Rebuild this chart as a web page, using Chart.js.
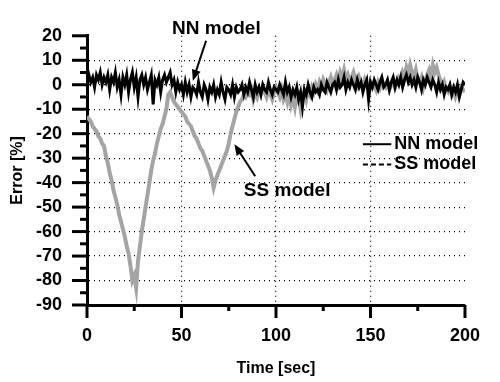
<!DOCTYPE html>
<html>
<head>
<meta charset="utf-8">
<script src="https://cdn.jsdelivr.net/npm/chart.js@4"></script>
<style>
  body { margin: 0; background: #fff; }
</style>
</head>
<body>
<canvas id="errChart" width="500" height="382"></canvas>
<script>
// tid i sekunder, ett värde per sekund 0..200
const timeSec = [];
for (let t = 0; t <= 200; t++) timeSec.push(t);

// NN model (svart, brusig kring 0)
const nnError = [
  2, 4, 1, 3, -1, 4, 2, 5, 0, 3, 1,
  4, -2, 3, 1, 5, -1, 2, -4, 3, 0,
  4, -3, 2, 5, -1, 3, -5, 2, 4, 0,
  3, -2, 1, 4, -8, 2, 0, 3, -3, 2,
  4, 1, 3, 5, 0, 2, -3, 1, -2, 0,
  -4, 1, -3, 0, -5, -1, -2, -4, 1, -3,
  -5, 0, -2, -6, -1, -3, 0, -5, -2, -4,
  1, -3, -6, -1, -2, -4, 0, -5, -1, -3,
  -2, 0, -4, -1, -3, 1, -2, -5, 0, -3,
  -1, -4, 0, -2, -3, 1, -2, -4, -1, -2,
  -3, 0, -2, -4, 1, -3, -1, -5, -2, -4,
  -1, -6, -3, -9, -2, -4, 0, -3, -5, -1,
  -3, -2, -4, 0, -2, -3, 1, -1, -3, 0,
  1, -2, 2, -1, 0, 3, -2, 1, -1, 2,
  0, -2, 2, -1, 1, -3, 0, 2, -6, 1,
  -1, 2, 0, -2, 1, 3, -1, 0, 2, -2,
  1, 3, -1, 2, 0, 3, -1, 2, 4, 1,
  3, 0, 2, -1, 3, 1, -2, 2, 0, 3,
  1, -1, 2, 0, -3, 1, -2, 0, -4, -1,
  -2, 0, -4, -1, -3, 0, -5, -2, 1, 0
];

// SS model (grå, två stora dippar)
const ssError = [
  -13, -14, -15, -17, -18, -19, -21, -22, -24, -25, -29,
  -32, -36, -39, -43, -46, -49, -53, -56, -59, -62,
  -66, -69, -74, -80, -78, -83, -72, -66, -60, -55,
  -50, -45, -40, -35, -31, -28, -24, -21, -18, -16,
  -13, -10, -4, -3, -5, -7, -8, -9, -10, -11,
  -12, -13, -15, -16, -17, -19, -21, -22, -24, -26,
  -27, -29, -31, -33, -35, -38, -42, -39, -37, -35,
  -33, -31, -29, -27, -24, -20, -17, -14, -11, -9,
  -7, -6, -4, -5, -3, -4, -2, -6, -3, -5,
  -2, -4, -1, -3, -5, -2, -4, -6, -3, -1,
  -3, -5, -2, -6, -4, -7, -3, -8, -5, -9,
  -4, -6, -10, -5, -3, -6, -2, -4, -1, -3,
  0, -2, 1, -1, 2, 0, -2, 1, 3, 0,
  2, 4, 1, 5, 3, 6, 2, 4, 1, 3,
  5, 2, 0, 3, 1, -1, 2, 0, -2, 1,
  -1, 0, -2, 1, -1, 2, 0, -1, 1, -2,
  0, 2, -1, 1, 3, 2, 5, 3, 7, 4,
  8, 5, 3, 6, 2, 1, 3, -1, 2, 4,
  6, 3, 8, 5, 7, 4, 2, -1, 1, -2,
  -3, -1, -4, -2, -5, -3, -4, -1, -2, -3
];

const seriesNames = ['NN model', 'SS model'];
const xTickLabels = [0, 50, 100, 150, 200];
const yTickLabels = [20, 10, 0, -10, -20, -30, -40, -50, -60, -70, -80, -90];

const FONT = "'Liberation Sans', Arial, sans-serif";

// ritar tickmarkeringar, legend och pilar ovanpå
const extras = {
  id: 'extras',
  afterDraw(chart) {
    const ctx = chart.ctx;
    const xs = chart.scales.x;
    const ys = chart.scales.y;
    const x0 = xs.left;
    const y0 = ys.bottom;
    ctx.save();
    ctx.strokeStyle = '#000';
    ctx.lineWidth = 3;
    // y ticks
    for (let v = -90; v <= 20; v += 5) {
      const py = ys.getPixelForValue(v);
      const len = v % 10 === 0 ? 15 : 7;
      ctx.beginPath();
      ctx.moveTo(x0 - len, py);
      ctx.lineTo(x0, py);
      ctx.stroke();
    }
    // x ticks
    for (let v = 0; v <= 200; v += 25) {
      const px = xs.getPixelForValue(v);
      const len = v % 50 === 0 ? 13 : 6;
      ctx.beginPath();
      ctx.moveTo(px, y0);
      ctx.lineTo(px, y0 + len);
      ctx.stroke();
    }

    // legend
    ctx.fillStyle = '#000';
    ctx.font = 'bold 18px ' + FONT;
    ctx.textBaseline = 'middle';
    const lx1 = xs.getPixelForValue(146);
    const lx2 = xs.getPixelForValue(161);
    const ly = [ys.getPixelForValue(-24.3), ys.getPixelForValue(-32.6)];
    ctx.lineWidth = 2;
    ctx.beginPath();
    ctx.moveTo(lx1, ly[0]);
    ctx.lineTo(lx2, ly[0]);
    ctx.stroke();
    ctx.setLineDash([5, 3]);
    ctx.beginPath();
    ctx.moveTo(lx1, ly[1]);
    ctx.lineTo(lx2, ly[1]);
    ctx.stroke();
    ctx.setLineDash([]);
    ctx.fillText(seriesNames[0], lx2 + 3, ly[0]);
    ctx.fillText(seriesNames[1], lx2 + 3, ly[1]);

    // annoteringar med pilar
    ctx.font = 'bold 19px ' + FONT;
    ctx.fillText(seriesNames[0], xs.getPixelForValue(45), ys.getPixelForValue(22.8));
    ctx.fillText(seriesNames[1], xs.getPixelForValue(83), ys.getPixelForValue(-43.5));
    arrow(ctx, xs.getPixelForValue(63), ys.getPixelForValue(18), xs.getPixelForValue(56), ys.getPixelForValue(1.6));
    arrow(ctx, xs.getPixelForValue(89), ys.getPixelForValue(-37.4), xs.getPixelForValue(78), ys.getPixelForValue(-24.3));
    ctx.restore();
  }
};

function arrow(ctx, fx, fy, tx, ty) {
  const a = Math.atan2(ty - fy, tx - fx);
  ctx.lineWidth = 2;
  ctx.beginPath();
  ctx.moveTo(fx, fy);
  ctx.lineTo(tx - 6 * Math.cos(a), ty - 6 * Math.sin(a));
  ctx.stroke();
  ctx.beginPath();
  ctx.moveTo(tx, ty);
  ctx.lineTo(tx - 11 * Math.cos(a) + 4.5 * Math.sin(a), ty - 11 * Math.sin(a) - 4.5 * Math.cos(a));
  ctx.lineTo(tx - 11 * Math.cos(a) - 4.5 * Math.sin(a), ty - 11 * Math.sin(a) + 4.5 * Math.cos(a));
  ctx.closePath();
  ctx.fill();
}

const data = {
  labels: timeSec,
  datasets: [
    {
      label: seriesNames[0],
      data: nnError,
      borderColor: '#000',
      borderWidth: 3,
      pointRadius: 0,
      tension: 0
    },
    {
      label: seriesNames[1],
      data: ssError,
      borderColor: '#a4a4a4',
      borderWidth: 4,
      pointRadius: 0,
      tension: 0
    }
  ]
};

const gridColor = (ctx, keep) => keep(ctx.tick.value) ? '#000' : 'rgba(0,0,0,0)';

const config = {
  type: 'line',
  data,
  options: {
    responsive: false,
    animation: false,
    devicePixelRatio: 1,
    layout: { padding: { top: 27, right: 14, left: 0, bottom: 0 } },
    plugins: { legend: { display: false }, tooltip: { enabled: false } },
    scales: {
      x: {
        type: 'linear',
        min: 0,
        max: 200,
        afterFit: (s) => { s.height = 77; },
        border: { color: '#000', width: 3, dash: [1, 4] },
        grid: {
          drawTicks: false,
          lineWidth: 1.2,
          color: (c) => gridColor(c, (v) => v % 50 === 0 && v > 0 && v < 200)
        },
        ticks: {
          stepSize: 25,
          autoSkip: false,
          maxRotation: 0,
          padding: 20,
          color: '#000',
          font: { family: FONT, size: 18, weight: 'bold' },
          callback: (v) => xTickLabels.includes(v) ? v : ''
        },
        title: {
          display: true,
          text: 'Time [sec]',
          color: '#000',
          padding: { top: 0, bottom: 4 },
          font: { family: FONT, size: 16, weight: 'bold' }
        }
      },
      y: {
        min: -90,
        max: 20,
        afterFit: (s) => { s.width = 87; },
        border: { color: '#000', width: 3, dash: [1, 4] },
        grid: {
          drawTicks: false,
          lineWidth: 1.2,
          color: (c) => gridColor(c, (v) => v % 10 === 0 && v > -90 && v < 20)
        },
        ticks: {
          stepSize: 5,
          autoSkip: false,
          padding: 25,
          color: '#000',
          font: { family: FONT, size: 18, weight: 'bold' },
          callback: (v) => yTickLabels.includes(v) ? v : ''
        },
        title: {
          display: true,
          text: 'Error [%]',
          color: '#000',
          padding: { top: 8, bottom: 0 },
          font: { family: FONT, size: 16, weight: 'bold' }
        }
      }
    }
  },
  plugins: [extras]
};

const canvas = document.getElementById('errChart');
const chart = new Chart(canvas, config);
</script>
</body>
</html>
